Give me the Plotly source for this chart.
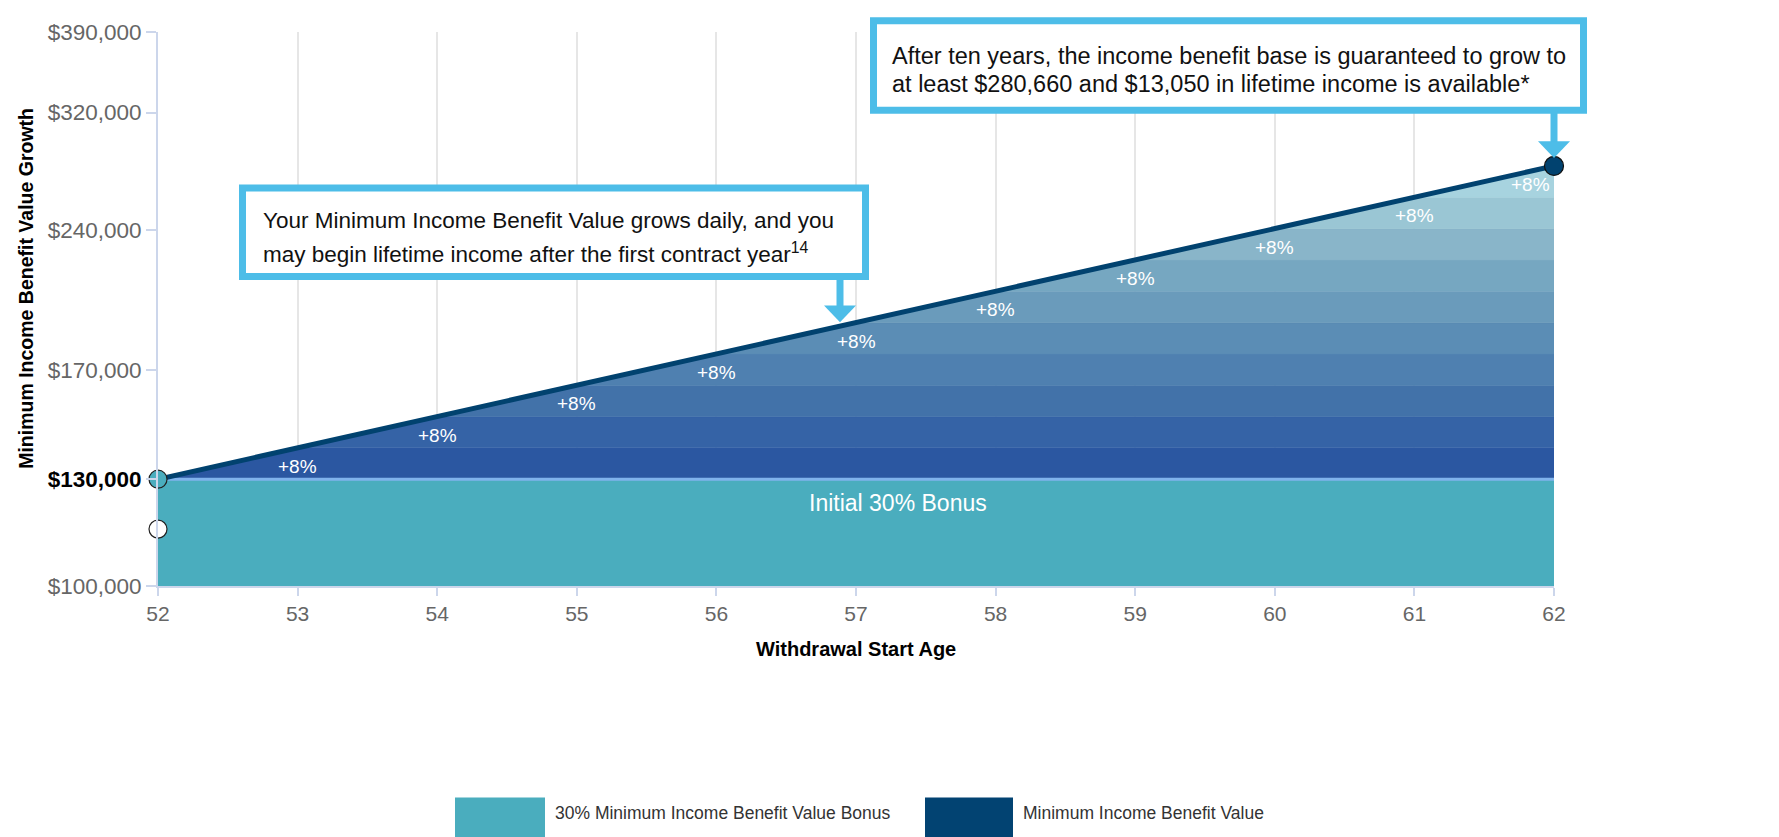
import math
import plotly.graph_objects as go

# ---------------- data ----------------
ages = [52, 53, 54, 55, 56, 57, 58, 59, 60, 61, 62]
benefit_values = [130000, 140400, 151632, 163763, 176864, 191013,
                  206294, 222797, 240621, 259871, 280660]
base_value = 100000
bonus_value = 130000
white_marker_value = 115000
growth_labels = ["+8%"] * 10
band_colors = ["#2b57a1", "#3563a6", "#4272a9", "#4f80b0", "#5b8db5",
               "#6a9bbb", "#76a7c1", "#89b5c9", "#9ac6d4", "#a7d3df"]
y_tickvals = [100000, 130000, 170000, 240000, 320000, 390000]
y_ticktext = ["$100,000", '<b><span style="color:#000000">$130,000</span></b>',
              "$170,000", "$240,000", "$320,000", "$390,000"]
legend_labels = ["30% Minimum Income Benefit Value Bonus", "Minimum Income Benefit Value"]
box1_lines = ["Your Minimum Income Benefit Value grows daily, and you",
              "may begin lifetime income after the first contract year<sup>14</sup>"]
box2_lines = ["After ten years, the income benefit base is guaranteed to grow to",
              "at least $280,660 and $13,050 in lifetime income is available*"]

TEAL = "#4aadbe"
NAVY = "#01426f"
CALLOUT = "#4dbde8"
FONT = "Liberation Sans, Arial, sans-serif"

W, H = 1779, 837
ML, MR, MT, MB = 150, 233, 15, 259
PW, PH = W - ML - MR, H - MT - MB


def px(x):
    return (x - ML) / PW


def py(y):
    return (H - MB - y) / PH


fig = go.Figure()

# bonus area
fig.add_trace(go.Scatter(
    x=[ages[0], ages[-1], ages[-1], ages[0], ages[0]],
    y=[base_value, base_value, bonus_value, bonus_value, base_value],
    fill="toself", fillcolor=TEAL, mode="lines", line=dict(width=0, color=TEAL),
    hoverinfo="skip", showlegend=False))

# growth bands
for k in range(len(ages) - 1):
    lo, hi = benefit_values[k], benefit_values[k + 1]
    xs = [ages[k], ages[k + 1], ages[-1], ages[-1], ages[k]]
    ys = [lo, hi, hi, lo, lo]
    fig.add_trace(go.Scatter(
        x=xs, y=ys, fill="toself", fillcolor=band_colors[k], mode="lines",
        line=dict(width=0.5, color=band_colors[k]), hoverinfo="skip", showlegend=False))

# light line at bonus level
fig.add_trace(go.Scatter(
    x=[ages[0], ages[-1]], y=[bonus_value, bonus_value], mode="lines",
    line=dict(color="#80b3ec", width=3), hoverinfo="skip", showlegend=False))

# main value line
fig.add_trace(go.Scatter(
    x=ages, y=benefit_values, mode="lines", line=dict(color=NAVY, width=5),
    hoverinfo="skip", showlegend=False))

# markers
fig.add_trace(go.Scatter(
    x=[ages[0]], y=[white_marker_value], mode="markers",
    marker=dict(size=18, color="white", line=dict(color="#222222", width=1.2)),
    hoverinfo="skip", showlegend=False, cliponaxis=False))
fig.add_trace(go.Scatter(
    x=[ages[0]], y=[bonus_value], mode="markers",
    marker=dict(size=18, color=TEAL, line=dict(color="#222222", width=1.2)),
    hoverinfo="skip", showlegend=False, cliponaxis=False))
fig.add_trace(go.Scatter(
    x=[ages[-1]], y=[benefit_values[-1]], mode="markers",
    marker=dict(size=19, color=NAVY, line=dict(color="#111111", width=1.2)),
    hoverinfo="skip", showlegend=False, cliponaxis=False))

annotations = []
# +8% labels
for k, lab in enumerate(growth_labels):
    lo, hi = benefit_values[k], benefit_values[k + 1]
    yc = math.sqrt(lo * hi)
    last = k == len(growth_labels) - 1
    annotations.append(dict(
        x=ages[k + 1], y=math.log10(yc), xref="x", yref="y", text=lab, showarrow=False,
        xanchor="right" if last else "center", xshift=-2 if last else 0, yshift=-3,
        font=dict(family=FONT, size=19, color="white")))

annotations.append(dict(
    x=57.3, y=math.log10(122500), xref="x", yref="y", text="Initial 30% Bonus",
    showarrow=False, font=dict(family=FONT, size=23, color="white")))

# axis titles
annotations.append(dict(
    x=0.5, y=py(655), xref="paper", yref="paper", text="<b>Withdrawal Start Age</b>",
    showarrow=False, font=dict(family=FONT, size=20, color="#000000")))
annotations.append(dict(
    x=px(5), y=py(276), xref="paper", yref="paper",
    text="<b>Minimum Income Benefit Value Growth</b>", textangle=-90,
    showarrow=False, font=dict(family=FONT, size=19.5, color="#000000")))

# callout texts
for line, ycen in zip(box1_lines, [207, 240]):
    annotations.append(dict(
        x=px(253), y=py(ycen), xref="paper", yref="paper", text=line, showarrow=False,
        xanchor="left", yanchor="middle", font=dict(family=FONT, size=22.5, color="#111111")))
for line, ycen in zip(box2_lines, [39, 68]):
    annotations.append(dict(
        x=px(882), y=py(ycen), xref="paper", yref="paper", text=line, showarrow=False,
        xanchor="left", yanchor="middle", font=dict(family=FONT, size=23.5, color="#111111")))

# legend texts
for lab, xl in zip(legend_labels, [545, 1013]):
    annotations.append(dict(
        x=px(xl), y=py(809), xref="paper", yref="paper", text=lab, showarrow=False,
        xanchor="left", yanchor="middle", font=dict(family=FONT, size=17.5, color="#333333")))

shapes = []


def rect(x0, y0, x1, y1, fill, line_color=None, lw=0):
    return dict(type="rect", xref="paper", yref="paper",
                x0=px(x0), x1=px(x1), y0=py(y1), y1=py(y0),
                fillcolor=fill, line=dict(color=line_color or fill, width=lw), layer="above")


def tri(xa, xb, ytop, xt, ytip, fill):
    path = f"M {px(xa)},{py(ytop)} L {px(xb)},{py(ytop)} L {px(xt)},{py(ytip)} Z"
    return dict(type="path", xref="paper", yref="paper", path=path,
                fillcolor=fill, line=dict(color=fill, width=0), layer="above")


# callout boxes
shapes.append(rect(234.5, 173.5, 857.5, 263.5, "white", CALLOUT, 7))
shapes.append(rect(828.5, 266, 835.5, 294, CALLOUT))
shapes.append(tri(816, 848, 293, 832, 310, CALLOUT))

shapes.append(rect(865.5, 3.5, 1575.5, 94.5, "white", CALLOUT, 7))
shapes.append(rect(1542.5, 97, 1549.5, 127, CALLOUT))
shapes.append(tri(1530, 1562, 126, 1546, 143, CALLOUT))

# legend swatches
shapes.append(rect(447, 793, 537, 840, TEAL))
shapes.append(rect(917, 793, 1005, 840, "#024372"))

fig.update_layout(
    width=W, height=H,
    margin=dict(l=ML, r=MR, t=MT, b=MB, pad=0),
    paper_bgcolor="white", plot_bgcolor="white",
    showlegend=False,
    font=dict(family=FONT),
    annotations=annotations,
    shapes=shapes,
    xaxis=dict(
        range=[ages[0], ages[-1]], tickvals=ages, ticktext=[str(a) for a in ages],
        showgrid=True, gridcolor="#e6e6e6", gridwidth=1.5,
        showline=True, linecolor="#ccd6eb", linewidth=2,
        ticks="outside", ticklen=8, tickcolor="#ccd6eb", tickwidth=2,
        tickfont=dict(family=FONT, size=21, color="#666666"), zeroline=False),
    yaxis=dict(
        type="log", range=[math.log10(base_value), math.log10(y_tickvals[-1])],
        tickvals=y_tickvals, ticktext=y_ticktext, showgrid=False,
        showline=True, linecolor="#ccd6eb", linewidth=2,
        ticks="outside", ticklen=10, tickcolor="#ccd6eb", tickwidth=2,
        tickfont=dict(family=FONT, size=22.5, color="#666666"), zeroline=False),
)

fig.write_html("out.html")
